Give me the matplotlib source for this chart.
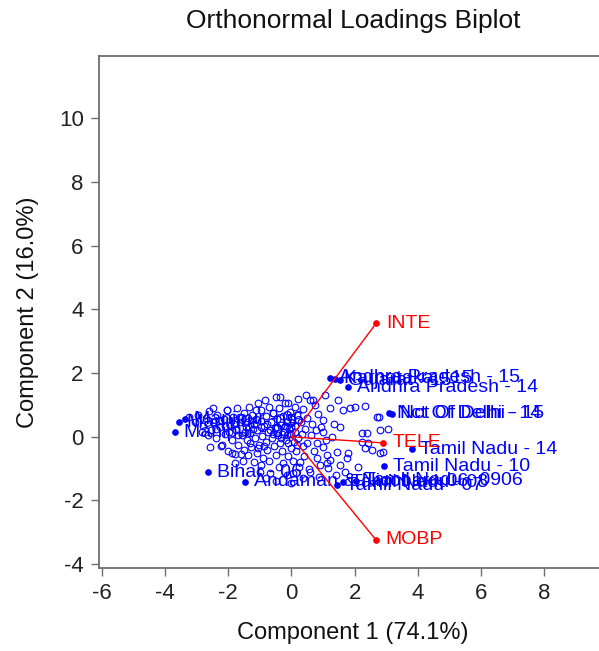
import matplotlib
matplotlib.use("Agg")
import matplotlib.pyplot as plt

plt.rcParams["font.family"] = ["Liberation Sans", "DejaVu Sans"]
plt.rcParams["axes.unicode_minus"] = False

TITLE = "Orthonormal Loadings Biplot"
X_LABEL = "Component 1 (74.1%)"
Y_LABEL = "Component 2 (16.0%)"

# observation scores (unlabelled, open circles)
score_x = [
    -3.25, -3.05, -2.95, -2.80, -2.70, -2.62, -2.55, -2.48, -2.40, -2.35, -2.28, -2.22,
    -2.15, -2.10, -2.05, -2.00, -1.95, -1.90, -1.85, -1.80, -1.76, -1.72, -1.68, -1.62,
    -1.58, -1.55, -1.52, -1.50, -2.57, -2.19, -1.87, -1.78, -2.50, -2.03, -2.65, -2.85,
    -1.45, -1.42, -1.38, -1.37, -1.34, -1.30, -1.28, -1.25, -1.20, -1.18, -1.15, -1.12,
    -1.10, -1.08, -1.05, -1.02, -0.98, -0.98, -0.95, -0.92, -0.90, -0.88, -0.85, -0.82,
    -0.80, -0.78, -0.75, -0.72, -0.70, -0.67, -0.66, -0.63, -0.60, -0.57, -0.55, -0.52,
    -0.50, -0.48, -0.45, -0.42, -0.40, -0.38, -0.36, -0.35, -0.32, -0.30, -0.28, -0.26,
    -0.24, -0.20, -0.18, -0.15, -0.13, -0.12, -0.10, -0.08, -0.05, -0.03, 0.00, 0.02,
    0.05, 0.06, 0.08, 0.10, 0.12, 0.15, 0.18, 0.20, 0.22, 0.25, 0.28, 0.30,
    0.33, 0.35, 0.38, 0.40, 0.42, 0.45, 0.48, 0.50,
    0.55, 0.60, 0.60, 0.62, 0.65, 0.69, 0.70, 0.75, 0.78, 0.80, 0.82, 0.85,
    0.88, 0.91, 0.95, 1.00, 1.00, 1.00, 1.05, 1.08, 1.13, 1.13, 1.17, 1.23,
    1.23, 1.29, 1.35, 1.45, 1.49, 1.55, 1.55, 1.64, 1.76, 1.80, 1.87, 2.02,
    2.10, 2.23, 2.25, 2.34, 2.34, 2.40, 2.43, 2.55, 2.70, 2.76, 2.81, 2.81,
    2.90, 3.07, 1.40, 1.70, 0.35, -0.80, -1.00, -0.50, 0.00,
    -2.30, -2.12, -1.98, -1.82, -1.70, -1.64, -1.48, -1.40, -1.32, -1.22, -1.14, -1.06,
    -0.96, -0.86, -0.76, -0.68, -0.58, -0.46, -0.34, -0.22, -0.10, -0.02, 0.10, 0.16,
    -0.30, -0.15, -1.60, -2.40,
]
score_y = [
    0.62, 0.48, 0.70, 0.35, 0.58, 0.82, 0.20, 0.45, -0.05, 0.68, 0.30, -0.30,
    0.55, 0.10, 0.85, -0.45, 0.38, -0.10, 0.62, -0.55, 0.20, 0.90, -0.25, 0.45,
    0.05, -0.75, 0.75, -0.40, -0.33, -0.27, -0.52, -0.83, 0.90, 0.83, 0.05, 0.15,
    0.30, -0.10, 0.58, -0.58, 0.95, 0.12, -0.32, 0.70, -0.80, 0.40, -0.05, 0.85,
    -0.50, 0.22, 1.05, -0.25, 0.83, -0.90, 0.50, 0.02, -0.65, 0.35, 1.15, -0.15,
    0.65, -0.40, 0.15, 0.95, -0.75, -1.15, 0.45, -0.05, 0.75, 0.74, -0.30, 0.28,
    1.25, -0.58, 0.55, 0.05, -0.95, 0.90, 1.26, -0.20, 0.38, -0.45, 0.65, -0.83,
    0.15, 1.05, -0.10, 0.48, -1.21, -0.60, 1.05, 0.25, 0.78, -0.35, 0.10, 0.55,
    -0.75, -1.15, -0.15, 0.95, 0.35, -0.45, 0.70, -0.05, 1.20, -0.95, -0.80, 0.45,
    0.10, -0.30, 0.88, -0.60, 0.25, 1.30, -0.20, 0.60,
    -1.00, 1.15, -1.11, 0.05, 0.40, 1.15, -0.45, 0.99, 0.20, -0.20, -0.67, 0.72,
    -1.25, -0.90, 0.30, 0.52, 0.14, -0.33, 1.30, -0.10, -0.83, -0.58, -0.98, 0.90,
    -0.73, -0.02, 0.40, -0.49, 1.15, 0.30, -0.90, 0.83, -0.67, -0.52, 0.90, 0.95,
    -0.95, 0.11, -0.17, 0.97, -0.35, 0.11, -0.20, -0.41, 0.62, 0.61, 0.21, -0.52,
    -0.47, 0.24, -1.20, -1.10, -1.30, -1.30, -1.10, -1.40, -1.45,
    0.50, 0.35, 0.15, 0.40, 0.05, 0.62, 0.15, 0.45, -0.20, 0.25, 0.55, -0.35,
    0.30, -0.30, 0.40, 0.20, 0.10, 0.30, -0.05, 0.35, -0.20, 0.30, 0.15, -0.25,
    0.10, 0.05, -0.55, 0.25,
]

# labelled observations (filled dots)
obs_names = [
    "Manipur - 06", "Manipur - 05", "Manipur - 07", "Bihar - 06", "Andaman & Nicobar - 06",
    "Andhra Pradesh - 15", "Karnataka - 15", "Gujarat - 15", "Andhra Pradesh - 14",
    "Nct Of Delhi - 14", "Nct Of Delhi - 15", "Tamil Nadu - 14", "Tamil Nadu - 10",
    "Tamil Nadu - 07", "Tamil Nadu - 08", "Tamil Nadu - 0906",
]
obs_x = [-3.36, -3.58, -3.68, -2.63, -1.46, 1.23, 1.39, 1.54, 1.80,
         3.08, 3.18, 3.82, 2.94, 1.45, 1.62, 2.05]
obs_y = [0.55, 0.46, 0.14, -1.12, -1.41, 1.85, 1.82, 1.78, 1.56,
         0.74, 0.72, -0.39, -0.92, -1.52, -1.42, -1.38]

# variable loadings
var_names = ["INTE", "TELE", "MOBP"]
load_x = [2.68, 2.90, 2.68]
load_y = [3.56, -0.19, -3.24]

BLUE = "#0000ff"
RED = "#ff0000"
GREY = "#6e6e6e"

fig = plt.figure(figsize=(5.99, 6.51), dpi=100)
ax = fig.add_axes([99 / 599, 83 / 651, 508 / 599, 512 / 651])

ax.plot(score_x, score_y, "o", ls="none", mfc="none", mec=BLUE,
        ms=4.8, mew=0.8, zorder=2)

ax.plot(obs_x, obs_y, "o", ls="none", color=BLUE, ms=3.8, zorder=3)
for name, x, y in zip(obs_names, obs_x, obs_y):
    ax.annotate(name, (x, y), xytext=(6, 0), textcoords="offset points",
                va="center", ha="left", color=BLUE, fontsize=14, zorder=3)

for name, x, y in zip(var_names, load_x, load_y):
    ax.plot([0, x], [0, y], color=RED, lw=1.0, zorder=4)
    ax.plot(x, y, "o", color=RED, ms=3.8, zorder=4)
    ax.annotate(name, (x, y), xytext=(7, 0), textcoords="offset points",
                va="center", ha="left", color=RED, fontsize=14, zorder=4)

ax.set_xlim(-6.1, 10)
ax.set_ylim(-4.12, 11.96)
ax.set_xticks(range(-6, 10, 2))
ax.set_yticks(range(-4, 12, 2))

for side in ("left", "bottom", "top", "right"):
    ax.spines[side].set_color(GREY)
    ax.spines[side].set_linewidth(1.3)
ax.tick_params(direction="out", length=6, width=1.0, color=GREY,
               labelsize=16, labelcolor="#222222", pad=5)

fig.text(353 / 599, 1 - 21 / 651, TITLE, ha="center", va="center",
         fontsize=19, color="#111111")
fig.text(353 / 599, 1 - 633 / 651, X_LABEL, ha="center", va="center",
         fontsize=17, color="#111111")
fig.text(28 / 599, 1 - 312 / 651, Y_LABEL, ha="center", va="center",
         rotation=90, fontsize=17, color="#111111")

fig.savefig("out.png", dpi=100)
